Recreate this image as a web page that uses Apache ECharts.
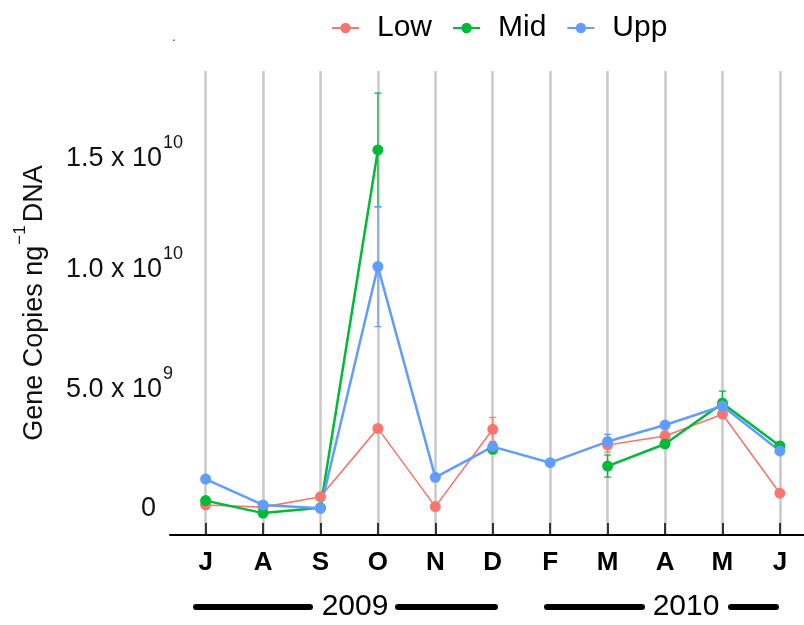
<!DOCTYPE html>
<html>
<head>
<meta charset="utf-8">
<script src="https://cdn.jsdelivr.net/npm/echarts@6/dist/echarts.min.js"></script>
<style>
  html, body { margin: 0; padding: 0; background: #fff; }
  #chart { width: 804px; height: 625px; }
</style>
</head>
<body>
<div id="chart"></div>
<script>
// Sampling months, July 2009 to June 2010
const months = ['J', 'A', 'S', 'O', 'N', 'D', 'F', 'M', 'A', 'M', 'J'];

// Mean gene copies per ng DNA (x 1e9) and their error half-widths, per depth
const lowMean = [0.14, 0.05, 0.48, 3.33, 0.07, 3.29, null, 2.64, 3.01, 3.92, 0.63];
const lowErr  = [0.10, 0.10, 0.10, 0.10, 0.10, 0.50, null, 0.30, 0.20, 0.15, 0.10];
const midMean = [0.32, -0.20, 0.02, 14.93, null, 2.46, null, 1.76, 2.68, 4.38, 2.60];
const midErr  = [0.15, 0.10, 0.10, 2.37, null, 0.15, null, 0.46, 0.15, 0.50, 0.15];
const uppMean = [1.22, 0.14, 0.00, 10.07, 1.29, 2.57, 1.90, 2.78, 3.47, 4.26, 2.39];
const uppErr  = [0.10, 0.10, 0.10, 2.50, 0.10, 0.15, 0.10, 0.30, 0.10, 0.30, 0.10];

const yTicks = [0, 5e9, 1e10, 1.5e10];
const years = ['2009', '2010'];

const UNIT = 1e9;
const FONT = '"Liberation Sans", Arial, sans-serif';
const COLORS = { Low: '#F8766D', Mid: '#00BA38', Upp: '#619CFF' };
const monthIdx = months.map((_, i) => i);

function points(mean) {
  return mean.map((v, i) => [i, v == null ? '-' : v * UNIT]);
}

function lineSeries(name, mean, width) {
  return {
    type: 'line',
    name,
    data: points(mean),
    connectNulls: false,
    symbol: 'circle',
    symbolSize: 11,
    color: COLORS[name],
    itemStyle: { color: COLORS[name] },
    lineStyle: { color: COLORS[name], width },
    emphasis: { disabled: true },
    z: 3
  };
}

function errorSeries(name, mean, err) {
  const data = [];
  mean.forEach((v, i) => {
    if (v != null && err[i] != null) data.push([i, (v - err[i]) * UNIT, (v + err[i]) * UNIT]);
  });
  const color = COLORS[name];
  return {
    type: 'custom',
    name: name + ' error',
    data,
    silent: true,
    z: 2,
    encode: { x: 0, y: [1, 2] },
    renderItem(params, api) {
      const x = api.value(0);
      const lo = api.coord([x, api.value(1)]);
      const hi = api.coord([x, api.value(2)]);
      const cap = 3.5;
      const style = { stroke: color, lineWidth: 1.2 };
      return {
        type: 'group',
        children: [
          { type: 'line', shape: { x1: lo[0], y1: lo[1], x2: hi[0], y2: hi[1] }, style },
          { type: 'line', shape: { x1: lo[0] - cap, y1: lo[1], x2: lo[0] + cap, y2: lo[1] }, style },
          { type: 'line', shape: { x1: hi[0] - cap, y1: hi[1], x2: hi[0] + cap, y2: hi[1] }, style }
        ]
      };
    }
  };
}

// tick label in "m x 10^e" form; a blank spacer line nudges each label up or down
const labelNudge = { 5e9: 'up', 1e10: 'up', 1.5e10: 'down' };
function yLabel(v) {
  if (v === 0) return '{z|0}';
  const exp = Math.round(Math.log10(v) - 0.5);
  const mant = (v / Math.pow(10, exp)).toFixed(1);
  const body = exp >= 10 ? `{m|${mant} x 10}{e|${exp}}` : `{m|${mant} x 10}{e1|${exp}}`;
  const nudge = labelNudge[v];
  if (nudge === 'up') return body + '\n{sp| }';
  if (nudge === 'down') return '{sp| }\n' + body;
  return body;
}

const chart = echarts.init(document.getElementById('chart'), null, { renderer: 'canvas' });

chart.setOption({
  animation: false,
  backgroundColor: '#fff',
  textStyle: { fontFamily: FONT },
  grid: { left: 170, right: 0, top: 71, bottom: 90, containLabel: false, outerBoundsMode: 'none' },
  legend: {
    data: ['Low', 'Mid', 'Upp'],
    left: 326,
    top: 8,
    itemWidth: 27,
    itemHeight: 13,
    itemGap: 20,
    selectedMode: false,
    textStyle: { fontSize: 30, color: '#000', fontFamily: FONT, padding: [0, 0, 0, 13] }
  },
  xAxis: {
    type: 'value',
    min: -0.62,
    max: 10.42,
    axisLine: { show: true, onZero: false, lineStyle: { color: '#000', width: 2 } },
    axisTick: { show: true, inside: true, length: 12, customValues: monthIdx, lineStyle: { color: '#000', width: 1.5 } },
    axisLabel: {
      customValues: monthIdx,
      formatter: v => months[Math.round(v)],
      fontWeight: 'bold',
      fontSize: 26,
      color: '#000',
      margin: 15,
      fontFamily: FONT
    },
    splitLine: { show: true, lineStyle: { color: '#c9c9c9', width: 2.5 } }
  },
  yAxis: {
    type: 'value',
    min: -1.1125e9,
    max: 18.22e9,
    axisLine: { show: false, onZero: false },
    axisTick: { show: false },
    splitLine: { show: false },
    axisLabel: {
      customValues: yTicks,
      margin: -13,
      formatter: yLabel,
      rich: {
        m: { fontSize: 27, color: '#111', lineHeight: 38, verticalAlign: 'bottom', fontFamily: FONT },
        e: { fontSize: 18, color: '#111', lineHeight: 20, verticalAlign: 'top', padding: [0, 0, 0, 1], fontFamily: FONT },
        e1: { fontSize: 18, color: '#111', lineHeight: 20, verticalAlign: 'top', padding: [0, 10, 0, 1], fontFamily: FONT },
        z: { fontSize: 27, color: '#111', lineHeight: 38, padding: [0, 27, 0, 0], fontFamily: FONT },
        sp: { fontSize: 8, lineHeight: 9 }
      }
    },
    name: '{a|Gene Copies ng}{s|−1}{a|DNA}',
    nameLocation: 'middle',
    nameRotate: 90,
    nameGap: 122,
    nameTextStyle: {
      rich: {
        a: { fontSize: 27, color: '#111', lineHeight: 36, verticalAlign: 'bottom', fontFamily: FONT },
        s: { fontSize: 17, color: '#111', lineHeight: 19, verticalAlign: 'top', padding: [0, 3, 0, 1], fontFamily: FONT }
      }
    }
  },
  graphic: [
    { type: 'text', left: 172, top: 30, style: { text: '.', fontSize: 14, fill: '#444' } },
    // year brackets under the month labels
    { type: 'line', shape: { x1: 196, y1: 607, x2: 310, y2: 607 }, style: { stroke: '#000', lineWidth: 6, lineCap: 'round' } },
    { type: 'line', shape: { x1: 398, y1: 607, x2: 495, y2: 607 }, style: { stroke: '#000', lineWidth: 6, lineCap: 'round' } },
    { type: 'text', x: 355, y: 607, style: { text: years[0], fill: '#000', align: 'center', verticalAlign: 'middle', font: '30px ' + FONT } },
    { type: 'line', shape: { x1: 547, y1: 607, x2: 642, y2: 607 }, style: { stroke: '#000', lineWidth: 6, lineCap: 'round' } },
    { type: 'line', shape: { x1: 731, y1: 607, x2: 776, y2: 607 }, style: { stroke: '#000', lineWidth: 6, lineCap: 'round' } },
    { type: 'text', x: 686, y: 607, style: { text: years[1], fill: '#000', align: 'center', verticalAlign: 'middle', font: '30px ' + FONT } }
  ],
  series: [
    lineSeries('Low', lowMean, 1.6),
    lineSeries('Mid', midMean, 2.5),
    lineSeries('Upp', uppMean, 2.5),
    errorSeries('Low', lowMean, lowErr),
    errorSeries('Mid', midMean, midErr),
    errorSeries('Upp', uppMean, uppErr)
  ]
});
</script>
</body>
</html>
